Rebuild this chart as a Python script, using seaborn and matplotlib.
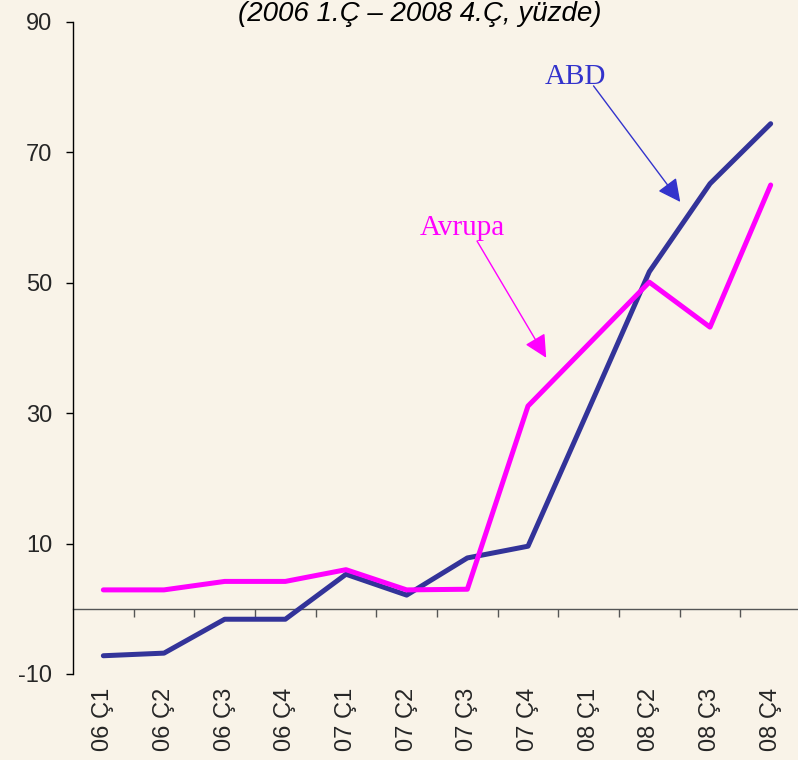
import matplotlib
matplotlib.use("Agg")
import matplotlib.pyplot as plt
import numpy as np
import pandas as pd
import seaborn as sns

# quarters and series (yüzde)
quarters = ["06 Ç1", "06 Ç2", "06 Ç3", "06 Ç4",
            "07 Ç1", "07 Ç2", "07 Ç3", "07 Ç4",
            "08 Ç1", "08 Ç2", "08 Ç3", "08 Ç4"]
abd = [-7.2, -6.8, -1.6, -1.6, 5.3, 2.1, 7.8, 9.6, 30.6, 51.7, 65.2, 74.4]
avrupa = [2.9, 2.9, 4.2, 4.2, 6.0, 2.9, 3.0, 31.1, 40.6, 50.1, 43.2, 65.0]
y_ticks = [-10, 10, 30, 50, 70, 90]
title = "(2006 1.Ç – 2008 4.Ç, yüzde)"

bg = "#F9F3E8"
c_abd = "#333399"
c_avr = "#FF00FF"

df = pd.DataFrame({
    "pos": list(range(len(quarters))) * 2,
    "val": abd + avrupa,
    "seri": ["ABD"] * len(abd) + ["Avrupa"] * len(avrupa),
})

sns.set_theme(style="white")
plt.rcParams["font.family"] = ["Liberation Sans", "DejaVu Sans"]
plt.rcParams["axes.unicode_minus"] = False

fig = plt.figure(figsize=(7.98, 7.6), dpi=100, facecolor=bg)
ax = fig.add_axes([73 / 798, 1 - 674 / 760, 728 / 798, 652 / 760])
ax.set_facecolor(bg)

sns.lineplot(data=df, x="pos", y="val", hue="seri", hue_order=["ABD", "Avrupa"],
             palette={"ABD": c_abd, "Avrupa": c_avr}, linewidth=3.6,
             sort=False, legend=False, ax=ax, solid_capstyle="round")

ax.set_xlim(-0.5, len(quarters) - 0.5)
ax.set_ylim(-10, 90)
ax.set_yticks(y_ticks)
ax.set_xticks(range(len(quarters)))
ax.set_xticklabels(quarters, rotation=90, va="top", ha="center")
ax.set_xlabel("")
ax.set_ylabel("")

for s in ["top", "right", "bottom"]:
    ax.spines[s].set_visible(False)
ax.spines["left"].set_color("black")
ax.spines["left"].set_linewidth(1.0)
ax.tick_params(axis="y", direction="out", length=5, width=1, color="black",
               labelsize=17, pad=10, left=True)
ax.tick_params(axis="x", length=0, labelsize=17, pad=10)

# zero line with category separators
zax = ax.secondary_xaxis(0, transform=ax.transData)
zax.set_xticks(np.arange(len(quarters) - 1) + 0.5)
zax.set_xticklabels([])
zax.spines["bottom"].set_color("#555555")
zax.spines["bottom"].set_linewidth(1.0)
zax.tick_params(axis="x", direction="out", length=6, width=1, color="#555555")

# labels with arrows
ax.text(7.78, 80.5, "ABD", color="#3333CC", fontsize=21, ha="center",
        va="baseline", family=["Liberation Serif", "DejaVu Serif"])
ax.annotate("", xy=(9.51, 62.4), xytext=(8.08, 80.2),
            arrowprops=dict(arrowstyle="-|>,head_length=1.0,head_width=0.5",
                            mutation_scale=14, color="#3333CC", lw=1.0,
                            shrinkA=0, shrinkB=0))
ax.text(5.92, 57.3, "Avrupa", color=c_avr, fontsize=21, ha="center",
        va="baseline", family=["Liberation Serif", "DejaVu Serif"])
ax.annotate("", xy=(7.30, 38.5), xytext=(6.16, 56.4),
            arrowprops=dict(arrowstyle="-|>,head_length=1.0,head_width=0.5",
                            mutation_scale=14, color=c_avr, lw=1.0,
                            shrinkA=0, shrinkB=0))

fig.text(420 / 798, 1 - 21 / 760, title, ha="center", va="baseline",
         fontsize=20, style="italic", color="black")

fig.savefig("out.png", dpi=100, facecolor=bg)
